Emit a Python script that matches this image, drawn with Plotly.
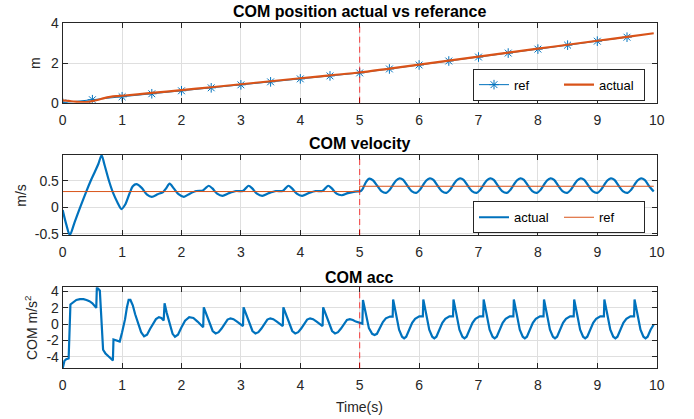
import plotly.graph_objects as go

# ---------------- data ----------------
pos_ref_t = [0, 0.5, 1, 1.5, 2, 2.5, 3, 3.5, 4, 4.5, 5, 5.5, 6, 6.5, 7, 7.5, 8, 8.5, 9, 9.5]
pos_ref_v = [0, 0.15, 0.3, 0.45, 0.6, 0.75, 0.9, 1.05, 1.2, 1.35, 1.5, 1.7, 1.9, 2.1, 2.3, 2.5, 2.7, 2.9, 3.1, 3.3]

pos_act_t = [0, 0.1, 0.2, 0.3, 0.4, 0.5, 0.6, 0.7, 0.8, 0.9, 1.0, 1.5, 2, 2.5, 3, 3.5, 4, 4.5, 5,
             5.5, 6, 6.5, 7, 7.5, 8, 8.5, 9, 9.5, 9.95]
pos_act_v = [0.12, 0.09, 0.05, 0.03, 0.03, 0.08, 0.15, 0.23, 0.29, 0.33, 0.35, 0.49, 0.63, 0.78, 0.93,
             1.08, 1.23, 1.38, 1.52, 1.72, 1.92, 2.12, 2.32, 2.52, 2.72, 2.92, 3.12, 3.32, 3.50]

vel_t = [0.00, 0.06, 0.12, 0.20, 0.30, 0.40, 0.47, 0.54, 0.60, 0.655, 0.70, 0.78, 0.85, 0.92, 0.99,
         1.05, 1.12, 1.18, 1.24, 1.33, 1.42, 1.50, 1.60, 1.69, 1.74, 1.80, 1.87, 1.95, 2.04,
         2.14, 2.25, 2.36, 2.41, 2.46, 2.52, 2.60, 2.69,
         2.80, 2.92, 3.03, 3.08, 3.13, 3.19, 3.27, 3.36,
         3.47, 3.59, 3.70, 3.75, 3.80, 3.86, 3.94, 4.03,
         4.14, 4.26, 4.37, 4.42, 4.47, 4.53, 4.61, 4.70,
         4.80, 4.92, 5.02,
         5.055, 5.105, 5.165, 5.225, 5.295, 5.365, 5.445, 5.503,
         5.563, 5.613, 5.673, 5.733, 5.803, 5.873, 5.953, 6.011,
         6.071, 6.121, 6.181, 6.241, 6.311, 6.381, 6.461, 6.519,
         6.579, 6.629, 6.689, 6.749, 6.819, 6.889, 6.969, 7.027,
         7.087, 7.137, 7.197, 7.257, 7.327, 7.397, 7.477, 7.535,
         7.595, 7.645, 7.705, 7.765, 7.835, 7.905, 7.985, 8.043,
         8.103, 8.153, 8.213, 8.273, 8.343, 8.413, 8.493, 8.551,
         8.611, 8.661, 8.721, 8.781, 8.851, 8.921, 9.001, 9.059,
         9.119, 9.169, 9.229, 9.289, 9.359, 9.429, 9.509, 9.567,
         9.627, 9.677, 9.737, 9.797, 9.867, 9.95]
vel_v = [-0.05, -0.32, -0.52, -0.28, 0.02, 0.31, 0.50, 0.67, 0.82, 0.985, 0.82, 0.50, 0.27, 0.10, -0.03,
         0.05, 0.25, 0.40, 0.44, 0.37, 0.24, 0.20, 0.25, 0.29, 0.36, 0.45, 0.36, 0.25, 0.20,
         0.26, 0.31, 0.32, 0.37, 0.41, 0.36, 0.26, 0.22,
         0.27, 0.31, 0.31, 0.36, 0.41, 0.36, 0.26, 0.22,
         0.27, 0.31, 0.31, 0.36, 0.41, 0.36, 0.26, 0.22,
         0.27, 0.31, 0.31, 0.36, 0.41, 0.36, 0.26, 0.23,
         0.27, 0.30, 0.31,
         0.36, 0.48, 0.545, 0.51, 0.41, 0.31, 0.275, 0.33,
         0.43, 0.51, 0.55, 0.52, 0.41, 0.31, 0.275, 0.33,
         0.43, 0.51, 0.55, 0.52, 0.41, 0.31, 0.275, 0.33,
         0.43, 0.51, 0.55, 0.52, 0.41, 0.31, 0.275, 0.33,
         0.43, 0.51, 0.55, 0.52, 0.41, 0.31, 0.275, 0.33,
         0.43, 0.51, 0.55, 0.52, 0.41, 0.31, 0.275, 0.33,
         0.43, 0.51, 0.55, 0.52, 0.41, 0.31, 0.275, 0.33,
         0.43, 0.51, 0.55, 0.52, 0.41, 0.31, 0.275, 0.33,
         0.43, 0.51, 0.55, 0.52, 0.41, 0.31, 0.275, 0.33,
         0.43, 0.51, 0.55, 0.52, 0.41, 0.30]

vel_ref_t = [0, 5, 5, 9.95]
vel_ref_v = [0.3, 0.3, 0.4, 0.4]

acc_t = [0.00, 0.03, 0.06, 0.10, 0.13, 0.18, 0.23, 0.29, 0.35, 0.40, 0.45, 0.50, 0.55, 0.565, 0.575,
         0.60, 0.625, 0.68, 0.72, 0.77, 0.82, 0.845, 0.855, 0.90, 0.96, 1.00, 1.05, 1.08, 1.11, 1.14,
         1.18, 1.22, 1.27, 1.32, 1.37, 1.42, 1.47, 1.52, 1.57, 1.62, 1.66, 1.70, 1.715, 1.75, 1.80,
         1.85, 1.89, 1.94, 2.00, 2.06, 2.13, 2.20, 2.27, 2.33, 2.365,
         2.375, 2.425, 2.475, 2.525, 2.575, 2.625, 2.675, 2.725, 2.775, 2.825, 2.875, 2.935, 2.995, 3.035,
         3.045, 3.095, 3.145, 3.195, 3.245, 3.295, 3.345, 3.395, 3.445, 3.495, 3.545, 3.605, 3.665, 3.705,
         3.715, 3.765, 3.815, 3.865, 3.915, 3.965, 4.015, 4.065, 4.115, 4.165, 4.215, 4.275, 4.335, 4.375,
         4.385, 4.435, 4.485, 4.535, 4.585, 4.635, 4.685, 4.735, 4.785, 4.835, 4.885, 4.935, 4.985, 5.045,
         5.055, 5.100, 5.155, 5.210, 5.250, 5.290, 5.340, 5.390, 5.440, 5.490, 5.510, 5.555,
         5.563, 5.608, 5.663, 5.713, 5.748, 5.783, 5.833, 5.883, 5.933, 5.983, 6.003, 6.063,
         6.071, 6.116, 6.171, 6.221, 6.256, 6.291, 6.341, 6.391, 6.441, 6.491, 6.511, 6.571,
         6.579, 6.624, 6.679, 6.729, 6.764, 6.799, 6.849, 6.899, 6.949, 6.999, 7.019, 7.079,
         7.087, 7.132, 7.187, 7.237, 7.272, 7.307, 7.357, 7.407, 7.457, 7.507, 7.527, 7.587,
         7.595, 7.640, 7.695, 7.745, 7.780, 7.815, 7.865, 7.915, 7.965, 8.015, 8.035, 8.095,
         8.103, 8.148, 8.203, 8.253, 8.288, 8.323, 8.373, 8.423, 8.473, 8.523, 8.543, 8.603,
         8.611, 8.656, 8.711, 8.761, 8.796, 8.831, 8.881, 8.931, 8.981, 9.031, 9.051, 9.111,
         9.119, 9.164, 9.219, 9.269, 9.304, 9.339, 9.389, 9.439, 9.489, 9.539, 9.559, 9.619,
         9.627, 9.672, 9.727, 9.777, 9.812, 9.847, 9.897, 9.950]
acc_v = [-5.40, -4.50, -4.30, -4.20, 2.40, 2.70, 2.95, 3.06, 3.05, 2.95, 2.80, 2.55, 2.10, 1.98, 4.50,
         4.35, 4.10, -3.15, -3.60, -3.95, -4.30, -4.45, -1.90, -2.05, -2.15, -1.00, 0.60, 2.00, 2.95, 2.95,
         2.30, 1.20, 0.10, -1.00, -1.50, -1.30, -0.60, 0.10, 0.60, 0.85, 0.75, 0.45, 2.55, 1.40, 0.00,
         -1.20, -1.55, -1.30, -0.40, 0.40, 0.85, 0.75, 0.30, -0.15, -0.40,
         2.05, 1.10, 0.15, -0.85, -1.15, -1.00, -0.55, 0.00, 0.55, 0.70, 0.60, 0.30, -0.05, -0.25,
         2.05, 1.10, 0.15, -0.85, -1.15, -1.00, -0.55, 0.00, 0.55, 0.70, 0.60, 0.30, -0.05, -0.25,
         2.05, 1.10, 0.15, -0.85, -1.15, -1.00, -0.55, 0.00, 0.55, 0.70, 0.60, 0.30, -0.05, -0.25,
         2.05, 1.10, 0.15, -0.85, -1.15, -1.00, -0.55, 0.00, 0.50, 0.60, 0.50, 0.30, 0.15, 0.05,
         2.95, 1.30, -0.50, -1.20, -1.35, -1.20, -0.50, 0.25, 0.70, 0.90, 0.92, 0.92,
         3.00, 1.35, -0.70, -1.55, -1.75, -1.55, -0.70, 0.15, 0.65, 0.90, 0.95, 0.95,
         3.00, 1.35, -0.70, -1.55, -1.75, -1.55, -0.70, 0.15, 0.65, 0.90, 0.95, 0.95,
         3.00, 1.35, -0.70, -1.55, -1.75, -1.55, -0.70, 0.15, 0.65, 0.90, 0.95, 0.95,
         3.00, 1.35, -0.70, -1.55, -1.75, -1.55, -0.70, 0.15, 0.65, 0.90, 0.95, 0.95,
         3.00, 1.35, -0.70, -1.55, -1.75, -1.55, -0.70, 0.15, 0.65, 0.90, 0.95, 0.95,
         3.00, 1.35, -0.70, -1.55, -1.75, -1.55, -0.70, 0.15, 0.65, 0.90, 0.95, 0.95,
         3.00, 1.35, -0.70, -1.55, -1.75, -1.55, -0.70, 0.15, 0.65, 0.90, 0.95, 0.95,
         3.00, 1.35, -0.70, -1.55, -1.75, -1.55, -0.70, 0.15, 0.65, 0.90, 0.95, 0.95,
         3.00, 1.35, -0.70, -1.55, -1.75, -1.55, -0.70, -0.05]

switch_time = 5

x_ticks = [0, 1, 2, 3, 4, 5, 6, 7, 8, 9, 10]
pos_yticks = [0, 2, 4]
pos_yticktext = ["0", "2", "4"]
vel_yticks = [-0.5, 0, 0.5]
vel_yticktext = ["-0.5", "0", "0.5"]
acc_yticks = [-4, -2, 0, 2, 4]
acc_yticktext = ["-4", "-2", "0", "2", "4"]

titles = ["COM position actual vs referance", "COM velocity", "COM acc"]

# ---------------- style ----------------
W, H = 694, 419
BLUE = "#0072BD"
ORANGE = "#D95319"
AX = "#262626"
GRID = "#DFDFDF"
FONT = "Liberation Sans, Arial, Helvetica, sans-serif"

def py(px):
    return 1 - px / H

xdom = [62.7 / W, 656.7 / W]
doms = [[py(102.7), py(23.3)], [py(235.0), py(155.0)], [py(368.3), py(287.3)]]

fig = go.Figure()

# top
fig.add_trace(go.Scatter(x=pos_ref_t, y=pos_ref_v, mode="lines+markers", name="ref",
                         line=dict(color=BLUE, width=1),
                         marker=dict(symbol="asterisk-open", size=8, color=BLUE,
                                     line=dict(color=BLUE, width=1)),
                         xaxis="x", yaxis="y", legend="legend"))
fig.add_trace(go.Scatter(x=pos_act_t, y=pos_act_v, mode="lines", name="actual",
                         line=dict(color=ORANGE, width=2.2, shape="spline", smoothing=0.6),
                         xaxis="x", yaxis="y", legend="legend"))
# middle
fig.add_trace(go.Scatter(x=vel_t, y=vel_v, mode="lines", name="actual",
                         line=dict(color=BLUE, width=2.2, shape="spline", smoothing=0.8),
                         xaxis="x2", yaxis="y2", legend="legend2"))
fig.add_trace(go.Scatter(x=vel_ref_t, y=vel_ref_v, mode="lines", name="ref",
                         line=dict(color=ORANGE, width=1),
                         xaxis="x2", yaxis="y2", legend="legend2"))
# bottom
fig.add_trace(go.Scatter(x=acc_t, y=acc_v, mode="lines", name="acc", showlegend=False,
                         line=dict(color=BLUE, width=2.2),
                         xaxis="x3", yaxis="y3"))

def axis_common():
    return dict(showline=True, linecolor=AX, linewidth=1, mirror="ticks", automargin=False,
                ticks="inside", ticklen=5, tickcolor=AX, showgrid=True, gridcolor=GRID,
                gridwidth=1, zeroline=False, tickfont=dict(family=FONT, size=14, color=AX))

def xax(anchor):
    return dict(domain=xdom, range=[0, 10], tickvals=x_ticks, anchor=anchor,
                ticklabelstandoff=4, **axis_common())

def yax(anchor, dom, rng, tv, tt):
    return dict(domain=dom, range=rng, tickvals=tv, ticktext=tt, anchor=anchor, **axis_common())

shapes = []
for xr, yr in [("x", "y"), ("x2", "y2"), ("x3", "y3")]:
    shapes.append(dict(type="line", xref=xr, yref=yr + " domain", x0=switch_time, x1=switch_time,
                       y0=0, y1=1, layer="above", opacity=0.75,
                       line=dict(color="#FF0000", width=1, dash="6px,4px")))

xc = (xdom[0] + xdom[1]) / 2
annotations = []
for txt, ypx in zip(titles, [11.5, 143, 277]):
    annotations.append(dict(text="<b>" + txt + "</b>", x=xc, y=py(ypx), xref="paper", yref="paper",
                            showarrow=False, xanchor="center", yanchor="middle",
                            font=dict(family=FONT, size=16, color="black")))
for txt, xpx, ypx in [("m", 35, 63), ("m/s", 20.7, 195), ("COM m/s<sup>2</sup>", 31, 328)]:
    annotations.append(dict(text=txt, x=xpx / W, y=py(ypx), xref="paper", yref="paper",
                            showarrow=False, textangle=-90, xanchor="center", yanchor="middle",
                            font=dict(family=FONT, size=14, color=AX)))
annotations.append(dict(text="Time(s)", x=xc, y=py(406.5), xref="paper", yref="paper",
                        showarrow=False, xanchor="center", yanchor="middle",
                        font=dict(family=FONT, size=14, color=AX)))

legend_common = dict(orientation="h", xanchor="right", yanchor="bottom", bgcolor="white",
                     bordercolor=AX, borderwidth=1, font=dict(family=FONT, size=13, color="black"),
                     entrywidth=40, entrywidthmode="pixels", tracegroupgap=0)

fig.update_layout(
    template="none",
    width=W, height=H, margin=dict(l=0, r=0, t=0, b=0),
    paper_bgcolor="white", plot_bgcolor="white",
    font=dict(family=FONT, size=14, color=AX),
    xaxis=xax("y"), yaxis=yax("x", doms[0], [0, 4], pos_yticks, pos_yticktext),
    xaxis2=xax("y2"), yaxis2=yax("x2", doms[1], [-0.52, 0.99], vel_yticks, vel_yticktext),
    xaxis3=xax("y3"), yaxis3=yax("x3", doms[2], [-5.42, 4.5], acc_yticks, acc_yticktext),
    legend=dict(x=645 / W, y=py(100.7), **legend_common),
    legend2=dict(x=645 / W, y=py(233.3), **legend_common),
    shapes=shapes, annotations=annotations, showlegend=True,
)

fig.write_html("out.html")
